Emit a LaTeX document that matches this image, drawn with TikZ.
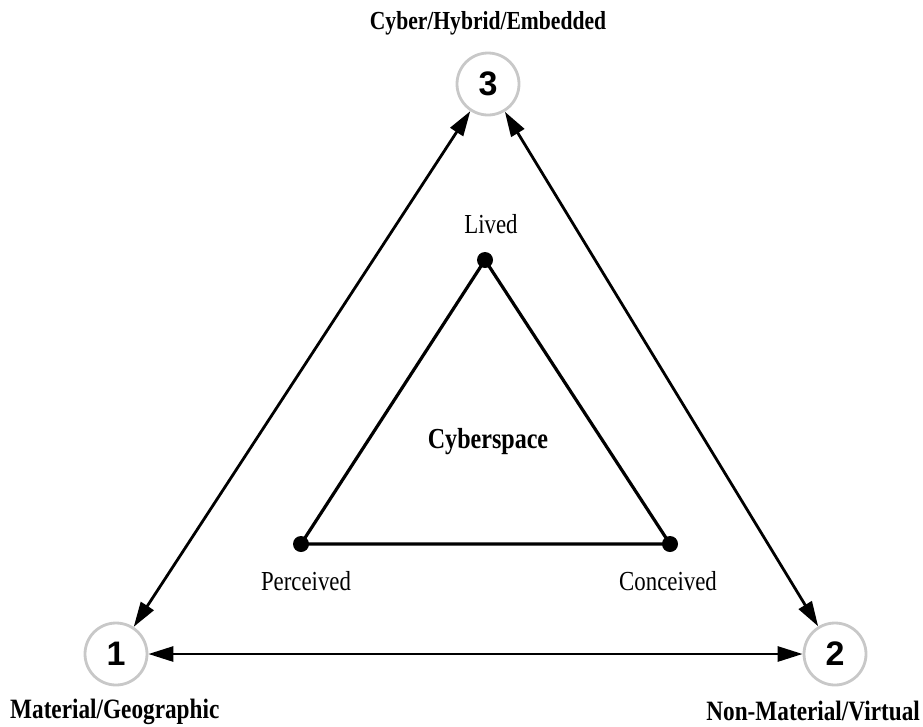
\documentclass[tikz,border=0pt]{standalone}
\usepackage{fontspec}
\setmainfont{Liberation Serif}[FakeStretch=0.83]
\newfontfamily\digitfont{Liberation Sans}
\usetikzlibrary{arrows.meta}
\definecolor{ringgray}{RGB}{200,200,200}
\tikzset{
  ring/.style={circle, draw=ringgray, line width=2.8pt, fill=white, minimum size=62pt, inner sep=0pt,
    font=\digitfont\bfseries\fontsize{34}{36}\selectfont},
  dot/.style={circle, fill=black, minimum size=16pt, inner sep=0pt},
  link/.style={line width=2.8pt, {Triangle[length=25pt,width=15pt]}-{Triangle[length=25pt,width=15pt]}},
  side/.style={line width=3.2pt, line join=round},
  corner/.style={font=\bfseries\fontsize{28}{30}\selectfont, inner sep=0pt},
  toplabel/.style={font=\bfseries\fontsize{26}{28}\selectfont, inner sep=0pt},
  inlabel/.style={font=\fontsize{27.5}{30}\selectfont, inner sep=0pt, anchor=base},
  center/.style={font=\bfseries\fontsize{29}{30}\selectfont, inner sep=0pt, anchor=base}
}
\begin{document}
\begin{tikzpicture}[x=1pt,y=-1pt]
\useasboundingbox (0,0) rectangle (923,726);
% outer nodes
\node[ring] (c3) at (488,84) {3};
\node[ring] (c1) at (116,654) {1};
\node[ring] (c2) at (835,654) {2};
\draw[link] (c1) -- (c2);
\draw[link] (c1) -- (c3);
\draw[link] (c2) -- (c3);
% labels
\node[toplabel, anchor=base] (t3) at (488,29) {Cyber/Hybrid/Embedded};
\node[corner, anchor=base west] (t1) at (10,718) {Material/Geographic};
\node[corner, anchor=base east] (t2) at (920,720) {Non-Material/Virtual};
% inner triangle
\node[dot] (L) at (485,260) {};
\node[dot] (P) at (301,544) {};
\node[dot] (C) at (670,544) {};
\draw[side] (L.center) -- (P.center) -- (C.center) -- cycle;
\node[inlabel] (lL) at (491,233) {Lived};
\node[inlabel] (lP) at (306,590) {Perceived};
\node[inlabel] (lC) at (668,590) {Conceived};
\node[center] (cs) at (488,448) {Cyberspace};
\end{tikzpicture}
\end{document}
